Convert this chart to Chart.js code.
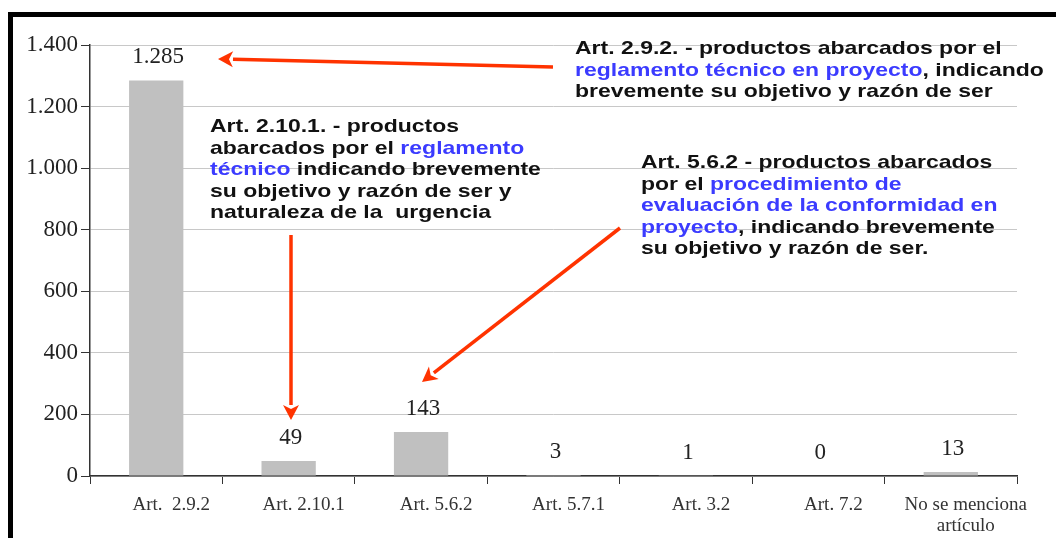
<!DOCTYPE html>
<html>
<head>
<meta charset="utf-8">
<script src="https://cdn.jsdelivr.net/npm/chart.js@4"></script>
<style>
  html, body { margin: 0; padding: 0; background: #fff; }
  #wrap { width: 1056px; height: 538px; }
</style>
</head>
<body>
<div id="wrap"><canvas id="chart" width="1056" height="538"></canvas></div>
<script>
const categories = ['Art.  2.9.2', 'Art. 2.10.1', 'Art. 5.6.2', 'Art. 5.7.1', 'Art. 3.2', 'Art. 7.2', ['No se menciona', 'artículo']];
const values = [1285, 49, 143, 3, 1, 0, 13];
const yTicks = [0, 200, 400, 600, 800, 1000, 1200, 1400];

const BLUE = '#3b3bff';
const RED = '#ff3300';

// each line is a list of [text, colour] pieces
const notes = [
  { x: 575, y: 49, lines: [
    [['Art. 2.9.2. - productos abarcados por el', '#111']],
    [['reglamento técnico en proyecto', BLUE], [', indicando', '#111']],
    [['brevemente su objetivo y razón de ser', '#111']]
  ]},
  { x: 210, y: 127, lines: [
    [['Art. 2.10.1. - productos', '#111']],
    [['abarcados por el ', '#111'], ['reglamento', BLUE]],
    [['técnico', BLUE], [' indicando brevemente', '#111']],
    [['su objetivo y razón de ser y', '#111']],
    [['naturaleza de la  urgencia', '#111']]
  ]},
  { x: 641, y: 163, lines: [
    [['Art. 5.6.2 - productos abarcados', '#111']],
    [['por el ', '#111'], ['procedimiento de', BLUE]],
    [['evaluación de la conformidad en', BLUE]],
    [['proyecto', BLUE], [', indicando brevemente', '#111']],
    [['su objetivo y razón de ser.', '#111']]
  ]}
];

const arrows = [
  [553, 67, 218, 59],
  [291, 235, 291, 420],
  [620, 228, 422, 382]
];

function fmt(v) {
  return String(v).replace(/\B(?=(\d{3})+(?!\d))/g, '.');
}

function drawArrow(ctx, x1, y1, x2, y2) {
  const a = Math.atan2(y2 - y1, x2 - x1);
  const len = 15, half = 8;
  const bx = x2 - len * Math.cos(a), by = y2 - len * Math.sin(a);
  ctx.beginPath();
  ctx.moveTo(x1, y1);
  ctx.lineTo(bx, by);
  ctx.lineWidth = 3.5;
  ctx.strokeStyle = RED;
  ctx.stroke();
  ctx.beginPath();
  ctx.moveTo(x2, y2);
  ctx.lineTo(bx + half * Math.sin(a), by - half * Math.cos(a));
  ctx.lineTo(bx + 4 * Math.cos(a), by + 4 * Math.sin(a));
  ctx.lineTo(bx - half * Math.sin(a), by + half * Math.cos(a));
  ctx.closePath();
  ctx.fillStyle = RED;
  ctx.fill();
}

const framePlugin = {
  id: 'frame',
  beforeDraw(chart) {
    const ctx = chart.ctx;
    ctx.save();
    ctx.fillStyle = '#fff';
    ctx.fillRect(0, 0, chart.width, chart.height);
    ctx.fillStyle = '#000';
    ctx.fillRect(8, 12, chart.width - 8, 5);
    ctx.fillRect(8, 12, 5, chart.height - 12);
    ctx.restore();
  }
};

const valueLabels = {
  id: 'valueLabels',
  afterDatasetsDraw(chart) {
    const ctx = chart.ctx;
    ctx.save();
    ctx.font = '23px "Liberation Serif"';
    ctx.fillStyle = '#222';
    ctx.textAlign = 'center';
    ctx.textBaseline = 'middle';
    chart.getDatasetMeta(0).data.forEach((bar, i) => {
      ctx.fillText(fmt(values[i]), bar.x + 2, bar.y - 23);
    });
    ctx.restore();
  }
};

// the annotation text in the original is a bit wide, so stretch it
const STRETCH = 1.21;

const notesPlugin = {
  id: 'notes',
  afterDraw(chart) {
    const ctx = chart.ctx;
    ctx.save();
    ctx.font = 'bold 19px "Liberation Sans"';
    ctx.textBaseline = 'middle';
    ctx.textAlign = 'left';
    notes.forEach(n => {
      n.lines.forEach((line, li) => {
        let x = n.x;
        line.forEach(([t, c]) => {
          ctx.save();
          ctx.translate(x, n.y + li * 21.5);
          ctx.scale(STRETCH, 1);
          ctx.fillStyle = c;
          ctx.fillText(t, 0, 0);
          ctx.restore();
          x += ctx.measureText(t).width * STRETCH;
        });
      });
    });
    arrows.forEach(a => drawArrow(ctx, a[0], a[1], a[2], a[3]));
    ctx.restore();
  }
};

new Chart('chart', {
  type: 'bar',
  data: {
    labels: categories,
    datasets: [{
      data: values,
      backgroundColor: '#c0c0c0',
      categoryPercentage: 1,
      barPercentage: 0.41
    }]
  },
  options: {
    responsive: false,
    animation: false,
    layout: { padding: { left: 0, right: 39, top: 45, bottom: 0 } },
    plugins: {
      legend: { display: false },
      title: { display: false },
      tooltip: { enabled: false }
    },
    scales: {
      x: {
        grid: { drawOnChartArea: false, tickLength: 8, tickColor: '#333', color: '#333' },
        border: { color: '#333', width: 1.5 },
        ticks: {
          color: '#333',
          font: { family: '"Liberation Serif"', size: 19, lineHeight: 1.1 },
          padding: 11,
          labelOffset: 15,
          maxRotation: 0,
          autoSkip: false
        },
        afterFit(scale) { scale.height = 62; }
      },
      y: {
        min: 0,
        max: 1400,
        afterBuildTicks(scale) { scale.ticks = yTicks.map(v => ({ value: v })); },
        grid: { color: '#c8c8c8', tickColor: '#333', tickLength: 9 },
        border: { color: '#333', width: 1.5 },
        ticks: {
          color: '#222',
          font: { family: '"Liberation Serif"', size: 23 },
          padding: 3,
          callback: v => fmt(v)
        },
        afterFit(scale) { scale.width = 90; }
      }
    }
  },
  plugins: [framePlugin, valueLabels, notesPlugin]
});
</script>
</body>
</html>
